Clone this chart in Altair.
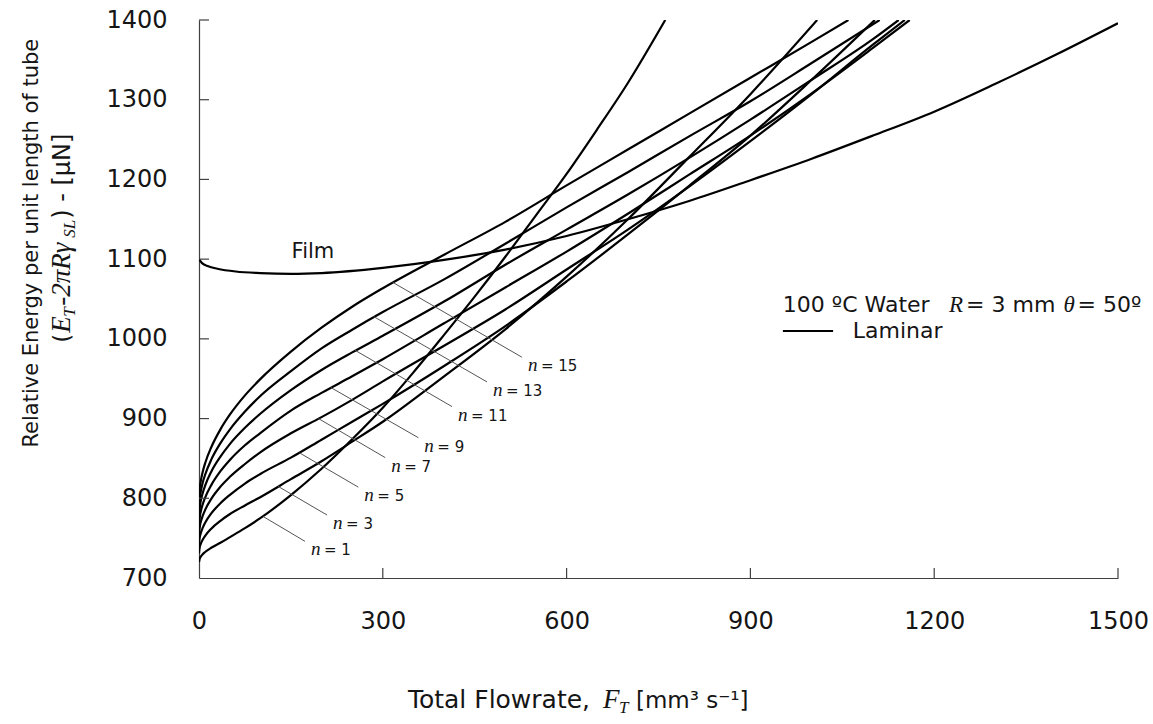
import altair as alt
import pandas as pd

# ---------------- values ----------------
# laminar rivulet curves, n = number of rivulets
n1_flow = [0, 1, 3, 6, 10, 20, 35, 50, 75, 100, 150, 200, 250, 300, 350, 400, 450, 500, 550, 600, 650, 700, 761]
n1_energy = [720, 724, 726.9, 729.8, 732.6, 737.9, 744.2, 751, 762.5, 775, 804, 837, 874, 913.6, 958, 1005, 1053, 1103, 1155, 1207, 1263, 1321, 1400]

n3_flow = [0, 1, 3, 6, 10, 20, 35, 50, 75, 100, 150, 200, 250, 300, 400, 500, 600, 700, 800, 900, 1009]
n3_energy = [731, 737.9, 743, 748, 752.9, 761.9, 771.8, 780, 791, 801.4, 824, 846.5, 871, 896, 953, 1012, 1078, 1150, 1228, 1307, 1400]

n5_flow = [0, 1, 3, 6, 10, 20, 35, 50, 75, 100, 150, 200, 250, 300, 400, 500, 600, 700, 800, 900, 1000, 1103]
n5_energy = [741, 750, 756.4, 762.8, 769.3, 781, 793.8, 804, 818.5, 830.5, 851, 873.5, 896, 918.5, 966, 1016, 1072, 1131, 1192, 1255, 1325, 1400]

n7_flow = [0, 1, 3, 6, 10, 20, 35, 50, 75, 100, 150, 200, 250, 300, 400, 500, 600, 700, 800, 900, 1000, 1100, 1152]
n7_energy = [752, 762.6, 770.5, 777.8, 785.4, 799.3, 814.6, 826.6, 843, 857.7, 881.5, 901.8, 923.5, 946.6, 991.4, 1036.9, 1087, 1137, 1191, 1248, 1307, 1369, 1400]

n9_flow = [0, 1, 3, 6, 10, 20, 35, 50, 75, 100, 150, 200, 250, 300, 400, 500, 600, 700, 800, 900, 1000, 1100, 1160]
n9_energy = [763, 775, 783.8, 792.3, 800.8, 816.5, 834, 847.8, 866.5, 881.8, 910, 932.2, 953, 974.5, 1019.5, 1064.5, 1109.5, 1157, 1206, 1255, 1308, 1365, 1400]

n11_flow = [0, 1, 3, 6, 10, 20, 35, 50, 75, 100, 150, 200, 250, 300, 400, 500, 600, 700, 800, 900, 1000, 1100, 1142]
n11_energy = [774, 787.2, 797, 806.5, 815.9, 833.4, 852.3, 867.7, 888.4, 906, 935.7, 961, 983, 1003.9, 1046.8, 1093, 1137, 1181, 1227, 1275, 1325, 1376, 1400]

n13_flow = [0, 1, 3, 6, 10, 20, 35, 50, 75, 100, 150, 200, 250, 300, 400, 500, 600, 700, 800, 900, 1000, 1111]
n13_energy = [784, 798.3, 809, 819.4, 829.5, 848.5, 869.2, 885.9, 908.8, 928.3, 959.5, 988.1, 1011.5, 1033.6, 1074.6, 1119.4, 1164.9, 1209.1, 1254, 1298, 1346, 1400]

n15_flow = [0, 1, 3, 6, 10, 20, 35, 50, 75, 100, 150, 200, 250, 300, 400, 500, 600, 700, 800, 900, 1000, 1060]
n15_energy = [795, 810.5, 821.9, 833, 844, 864, 886.5, 904.5, 929.1, 949.5, 984, 1014, 1040.3, 1063.5, 1105.5, 1146.8, 1192.5, 1237.5, 1282.5, 1327.5, 1372.5, 1400]

# film curve
film_flow = [0, 5, 15, 30, 60, 100, 150, 200, 300, 400, 500, 600, 700, 800, 900, 1000, 1100, 1200, 1300, 1400, 1500]
film_energy = [1100, 1095, 1091, 1088, 1084.5, 1082.5, 1081.5, 1082.5, 1089, 1099, 1112, 1129, 1150, 1173, 1199, 1226, 1255, 1285, 1320, 1357, 1396]

# leader lines for the n labels (start on curve -> end near label)
leader_n = ["1", "3", "5", "7", "9", "11", "13", "15"]
leader_x0 = [105, 129, 164, 195, 215, 254, 285, 316]
leader_y0 = [777, 815, 857, 900, 939, 986, 1028, 1071]
leader_x1 = [173, 209, 260, 304, 358, 413, 470, 527]
leader_y1 = [746, 779, 814, 851, 876, 915, 946, 977]

# axis ticks
x_ticks = [0, 300, 600, 900, 1200, 1500]
y_ticks = [700, 800, 900, 1000, 1100, 1200, 1300, 1400]

# annotations (data coordinates)
film_label = ["Film"]
film_label_x = [186]
film_label_y = [1109]

legend_sans_text = ["100 ºC Water", "= 3 mm", "= 50º", "Laminar"]
legend_sans_x = [953, 1252, 1434, 1067]
legend_sans_y = [1042, 1042, 1042, 1010]
legend_ital_text = ["R", "θ"]
legend_ital_x = [1224, 1411]
legend_ital_y = [1042, 1042]
legend_line_x = [953]
legend_line_x2 = [1035]
legend_line_y = [1010]

# axis titles (anchors in data coordinates, outside the plotted range)
xtitle_sans = ["Total Flowrate,", "[mm³ s⁻¹]"]
xtitle_x = 341
xtitle_y = 537
ytitle_line1 = "Relative Energy per unit length of tube"
ytitle1_x = -273
ytitle1_y = 1120
ytitle2_x = -210
ytitle2_y = 995

# ---------------- build tables ----------------
series = [("n=1", n1_flow, n1_energy), ("n=3", n3_flow, n3_energy),
          ("n=5", n5_flow, n5_energy), ("n=7", n7_flow, n7_energy),
          ("n=9", n9_flow, n9_energy), ("n=11", n11_flow, n11_energy),
          ("n=13", n13_flow, n13_energy), ("n=15", n15_flow, n15_energy),
          ("Film", film_flow, film_energy)]
rows = []
for name, xs_, ys_ in series:
    for x, y in zip(xs_, ys_):
        rows.append({"series": name, "flow": x, "energy": y})
curves = pd.DataFrame(rows)

leaders = pd.DataFrame({"n": leader_n, "x0": leader_x0, "y0": leader_y0,
                        "x1": leader_x1, "y1": leader_y1,
                        "lab": ["= " + v for v in leader_n], "nn": ["n"] * len(leader_n)})

xticks_df = pd.DataFrame({"v": x_ticks[1:], "lo": [700] * (len(x_ticks) - 1), "hi": [712.5] * (len(x_ticks) - 1)})
yticks_df = pd.DataFrame({"v": y_ticks[1:], "lo": [0] * (len(y_ticks) - 1), "hi": [16.3] * (len(y_ticks) - 1)})

film_df = pd.DataFrame({"t": film_label, "x": film_label_x, "y": film_label_y})
leg_sans = pd.DataFrame({"t": legend_sans_text, "x": legend_sans_x, "y": legend_sans_y})
leg_ital = pd.DataFrame({"t": legend_ital_text, "x": legend_ital_x, "y": legend_ital_y})
leg_line = pd.DataFrame({"x": legend_line_x, "x2": legend_line_x2, "y": legend_line_y})
xt_anchor = pd.DataFrame({"x": [xtitle_x], "y": [xtitle_y]})
yt1_anchor = pd.DataFrame({"x": [ytitle1_x], "y": [ytitle1_y], "t": [ytitle_line1]})
yt2_anchor = pd.DataFrame({"x": [ytitle2_x], "y": [ytitle2_y]})

# ---------------- scales / axes ----------------
xs = alt.Scale(domain=[0, 1500], nice=False, zero=False)
ys = alt.Scale(domain=[700, 1400], nice=False, zero=False)

AX = "#404040"
TXT = "#151515"

x_axis = alt.Axis(values=x_ticks, format="d", ticks=False, tickSize=0, grid=False, labelFlush=False,
                  labelOverlap=False, labelPadding=31, labelFont="DejaVu Sans", labelFontSize=24,
                  labelColor=TXT, domainColor=AX, domainWidth=1.2, title="")
y_axis = alt.Axis(values=y_ticks, format="d", ticks=False, tickSize=0, grid=False, labelFlush=False,
                  labelOverlap=False, labelPadding=32, labelFont="DejaVu Sans", labelFontSize=24,
                  labelColor=TXT, domainColor=AX, domainWidth=1.2, title="")

lines = alt.Chart(curves).mark_line(interpolate="monotone", color="black", strokeWidth=2.2, clip=True).encode(
    x=alt.X("flow:Q", scale=xs, axis=x_axis),
    y=alt.Y("energy:Q", scale=ys, axis=y_axis),
    detail="series:N",
)

leader_rules = alt.Chart(leaders).mark_rule(color="#555555", strokeWidth=1).encode(
    x="x0:Q", y="y0:Q", x2="x1:Q", y2="y1:Q")

n_ital = alt.Chart(leaders).mark_text(font="Liberation Serif", fontStyle="italic", fontSize=19,
                                      align="left", baseline="alphabetic", dx=6, dy=14, color=TXT).encode(
    x="x1:Q", y="y1:Q", text="nn:N")
n_lab = alt.Chart(leaders).mark_text(font="DejaVu Sans", fontSize=15, align="left",
                                     baseline="alphabetic", dx=19, dy=14, color=TXT).encode(
    x="x1:Q", y="y1:Q", text="lab:N")

xtick_marks = alt.Chart(xticks_df).mark_rule(color=AX, strokeWidth=1.2).encode(
    x="v:Q", y="lo:Q", y2="hi:Q")
ytick_marks = alt.Chart(yticks_df).mark_rule(color=AX, strokeWidth=1.2).encode(
    y="v:Q", x="lo:Q", x2="hi:Q")

film_text = alt.Chart(film_df).mark_text(font="DejaVu Sans", fontSize=21, align="center",
                                         baseline="middle", color=TXT).encode(
    x="x:Q", y="y:Q", text="t:N")

leg_sans_text = alt.Chart(leg_sans).mark_text(font="DejaVu Sans", fontSize=22, align="left",
                                              baseline="middle", color=TXT).encode(
    x="x:Q", y="y:Q", text="t:N")
leg_ital_text = alt.Chart(leg_ital).mark_text(font="Liberation Serif", fontStyle="italic", fontSize=23,
                                              align="left", baseline="middle", color=TXT).encode(
    x="x:Q", y="y:Q", text="t:N")
leg_rule = alt.Chart(leg_line).mark_rule(color="black", strokeWidth=2).encode(
    x="x:Q", x2="x2:Q", y="y:Q")


def piece(df, text, font, size, dx, dy=0, italic=False, angle=0, align="left", baseline="alphabetic"):
    kw = dict(text=text, font=font, fontSize=size, dx=dx, dy=dy, align=align,
              baseline=baseline, color=TXT, angle=angle)
    if italic:
        kw["fontStyle"] = "italic"
    return alt.Chart(df).mark_text(**kw).encode(x="x:Q", y="y:Q")


# x-axis title: Total Flowrate, F_T [mm3 s-1]
xt = [
    piece(xt_anchor, xtitle_sans[0], "DejaVu Sans", 25, 0),
    piece(xt_anchor, "F", "Liberation Serif", 27, 195, italic=True),
    piece(xt_anchor, "T", "Liberation Serif", 17, 211, dy=5, italic=True),
    piece(xt_anchor, xtitle_sans[1], "DejaVu Sans", 23, 228),
]

# y-axis title, line 1 and the formula line 2
yt = [
    alt.Chart(yt1_anchor).mark_text(font="DejaVu Sans", fontSize=21, angle=270, align="center",
                                    baseline="middle", color=TXT).encode(x="x:Q", y="y:Q", text="t:N"),
    piece(yt2_anchor, "(", "DejaVu Sans", 23, 0, angle=270),
    piece(yt2_anchor, "E", "Liberation Serif", 27, 10, italic=True, angle=270),
    piece(yt2_anchor, "T", "Liberation Serif", 17, 26, dy=5, italic=True, angle=270),
    piece(yt2_anchor, "-2πRγ", "Liberation Serif", 27, 37, italic=True, angle=270),
    piece(yt2_anchor, "SL", "Liberation Serif", 17, 105, dy=5, italic=True, angle=270),
    piece(yt2_anchor, ") - [μN]", "DejaVu Sans", 24, 124, angle=270),
]

chart = alt.layer(
    lines, leader_rules, n_ital, n_lab, xtick_marks, ytick_marks,
    film_text, leg_sans_text, leg_ital_text, leg_rule, *xt, *yt
).properties(
    width=919, height=558,
    padding={"left": 199, "top": 20, "right": 35, "bottom": 146},
    autosize=alt.AutoSizeParams(type="none"),
    background="white",
).configure_view(stroke=None)

chart.save("out.html", embed_options={"renderer": "svg", "actions": False})
